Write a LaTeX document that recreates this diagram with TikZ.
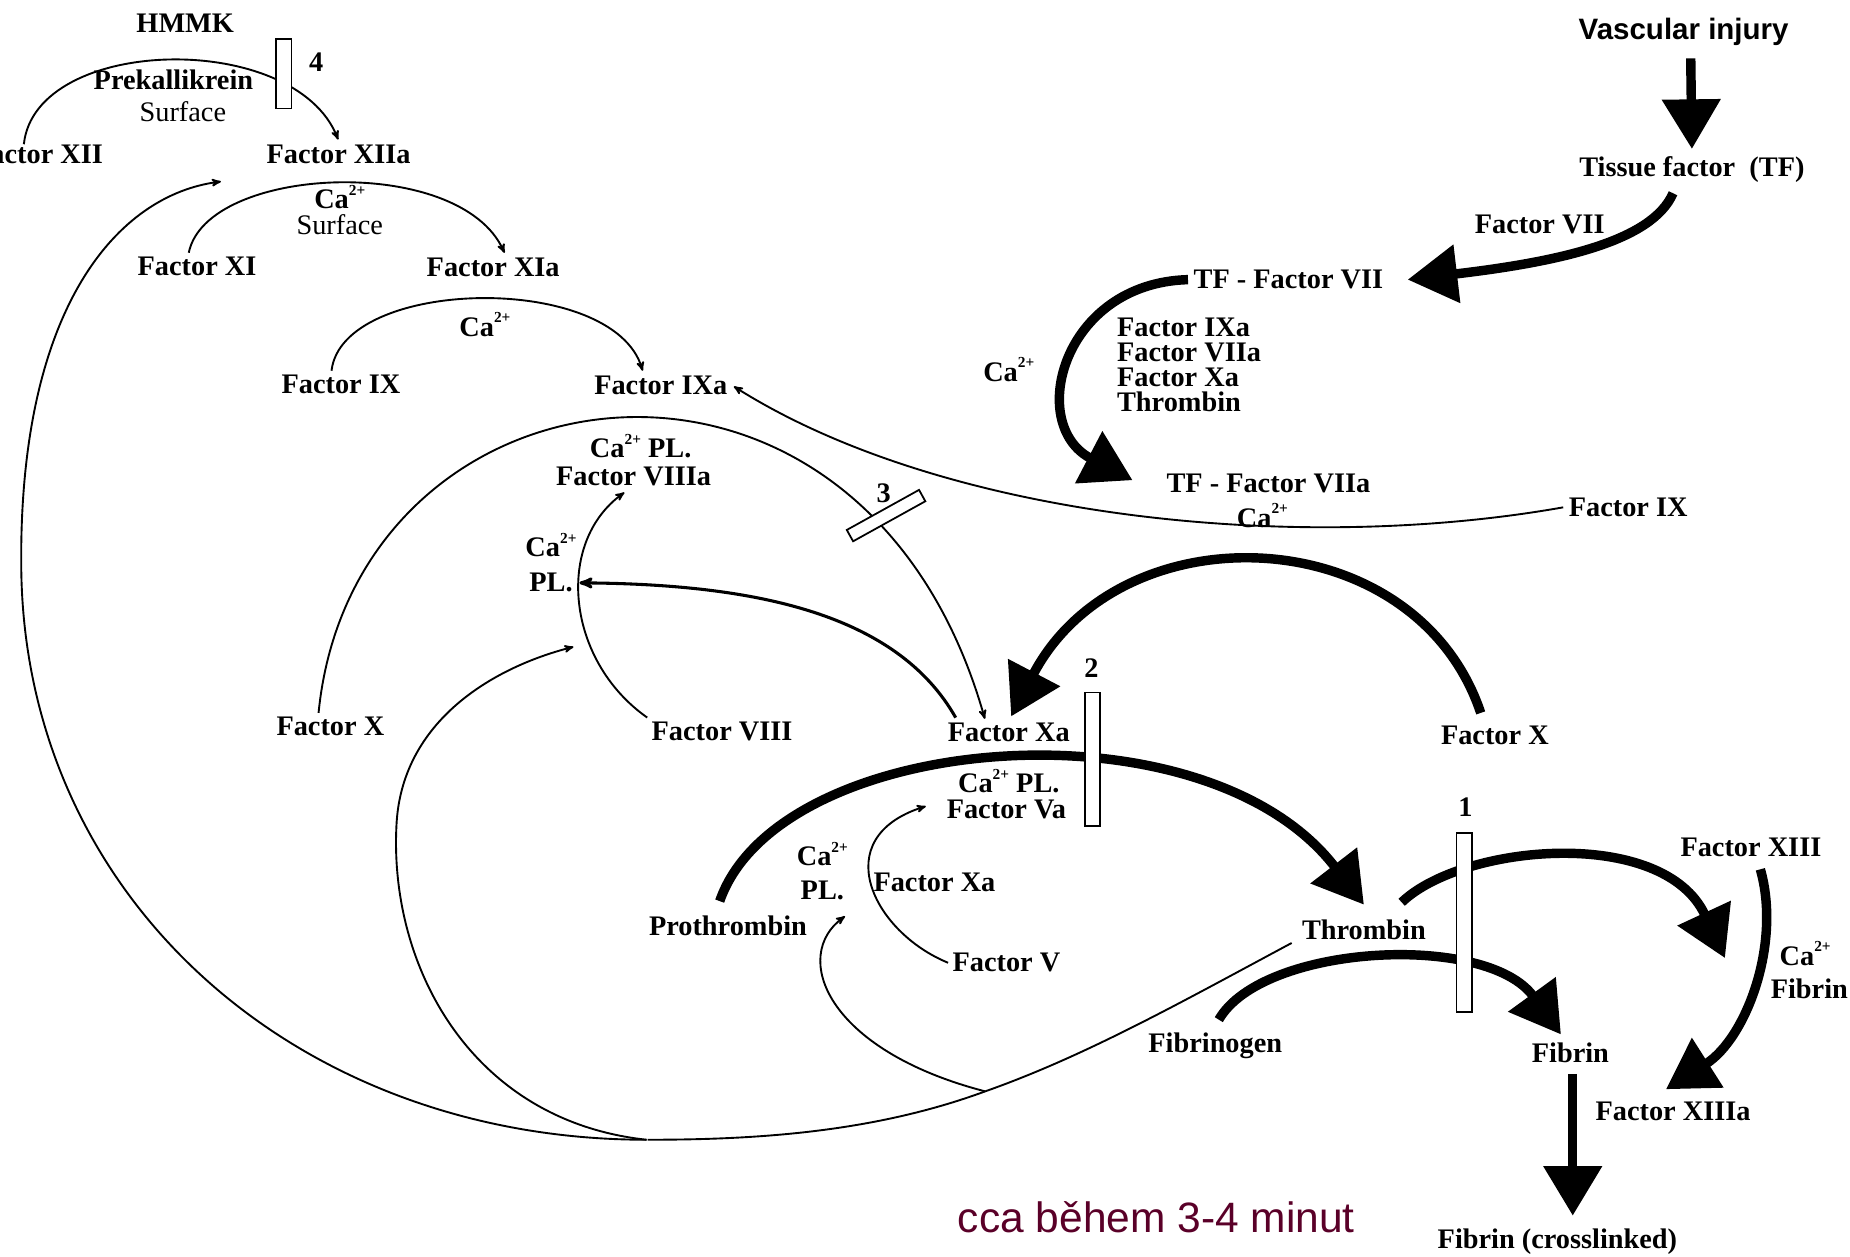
\documentclass[tikz,border=0pt]{standalone}
\usepackage{fontspec}
\setmainfont{Liberation Serif}
\newfontfamily\arialfont{Liberation Sans}
\usetikzlibrary{arrows,arrows.meta}
\definecolor{timecol}{RGB}{90,0,40}
\newcommand{\ca}{Ca\raisebox{1.05ex}{\fontsize{13}{13}\selectfont 2+}}

\begin{document}
\begin{tikzpicture}
[->,>=stealth',x=1pt,y=-1pt,line width=1.6pt,shorten >=1pt]
\tikzstyle{lbl}=[font=\bfseries\fontsize{24}{21}\selectfont,inner sep=0pt,align=center]
\tikzstyle{thin}=[font=\fontsize{24}{21}\selectfont,inner sep=0pt]
\tikzstyle{fat}=[line width=8pt,shorten >=0pt,-{Triangle[width=48pt,length=42pt]}]
\tikzstyle{bar}=[draw,fill=white,line width=1.5pt,inner sep=0pt,minimum width=13pt]
\useasboundingbox (0,0) rectangle (1568,1065);

% intrinsic pathway, top left
\node[lbl] (hmmk) at (157,20) {HMMK};
\node[lbl] (prekal) at (147,68) {Prekallikrein};
\node[thin] (surfA) at (155,95) {Surface};
\node[lbl] (num4) at (268,53) {4};
\node[lbl,anchor=east] (fXII) at (88,131) {Factor XII};
\node[lbl] (fXIIa) at (287,131) {Factor XIIa};
\node[lbl] (caA) at (288,167) {\ca};
\node[thin] (surfB) at (288,190) {Surface};
\node[lbl] (fXI) at (167,226) {Factor XI};
\node[lbl] (fXIa) at (418,227) {Factor XIa};
\node[lbl] (caB) at (411,275) {\ca};
\node[lbl] (fIX) at (289,326) {Factor IX};
\node[lbl] (fIXa) at (560,327) {Factor IXa};
\node[lbl] (caplA) at (543,378) {\ca{} PL.};
\node[lbl] (fVIIIa) at (537,404) {Factor VIIIa};
\node[lbl] (num3) at (749,418) {3};
\node[lbl] (caC) at (467,462) {\ca};
\node[lbl] (plA) at (467,494) {PL.};
\node[lbl] (fX) at (280,616) {Factor X};
\node[lbl] (fVIII) at (612,620) {Factor VIII};
\node[lbl] (fXa) at (855,621) {Factor Xa};
\node[lbl] (num2) at (925,566) {2};
\node[lbl] (caplB) at (855,662) {\ca{} PL.};
\node[lbl] (fVa) at (853,686) {Factor Va};
\node[lbl] (fX2) at (1267,623) {Factor X};
\node[lbl] (num1) at (1242,684) {1};
\node[lbl] (caD) at (697,724) {\ca};
\node[lbl] (plB) at (697,755) {PL.};
\node[lbl] (fXa2) at (792,748) {Factor Xa};
\node[lbl] (proth) at (617,785) {Prothrombin};
\node[lbl] (fV) at (853,816) {Factor V};
\node[lbl] (thr) at (1156,788) {Thrombin};
\node[lbl] (fbgen) at (1030,886) {Fibrinogen};
\node[lbl] (fibrin) at (1331,892) {Fibrin};
\node[lbl] (fXIII) at (1484,718) {Factor XIII};
\node[lbl] (caE) at (1530,808) {\ca};
\node[lbl,anchor=east] (fibB) at (1567,838) {Fibrin};
\node[lbl] (fXIIIa) at (1418,942) {Factor XIIIa};
\node[lbl] (fibX) at (1320,1052) {Fibrin (crosslinked)};
\node[font=\arialfont\fontsize{36}{36}\selectfont,text=timecol,inner sep=0pt] (time) at (980,1032) {cca během 3-4 minut};

% extrinsic pathway, top right
\node[font=\arialfont\bfseries\fontsize{25}{25}\selectfont,inner sep=0pt] (vasc) at (1427,27) {Vascular injury};
\node[lbl] (tf) at (1434,144) {Tissue factor~~(TF)};
\node[lbl] (fVII) at (1305,190) {Factor VII};
\node[lbl] (tfVII) at (1092,237) {TF - Factor VII};
\node[lbl,anchor=north west,align=left] (enz) at (946,269) {Factor IXa\\Factor VIIa\\Factor Xa\\Thrombin};
\node[lbl] (caF) at (855,313) {\ca};
\node[lbl] (tfVIIa) at (1075,410) {TF - Factor VIIa};
\node[lbl] (caG) at (1070,437) {\ca};
\node[lbl] (fIX2) at (1380,430) {Factor IX};

\coordinate (jV) at (835,925);
\coordinate (jB) at (548,966);
\coordinate (toPL) at (487,548);
\coordinate (toV) at (717,776);
\coordinate (toXIII) at (1462,812);

% thin arrows
\draw ([xshift=-12pt]fXII.north) .. controls (30,30) and (250,25) .. ([yshift=3pt]fXIIa.north);
\draw ([xshift=-7pt,yshift=3pt]fXI.north) .. controls (175,140) and (390,130) .. ([xshift=10pt,yshift=3pt]fXIa.north);
\draw ([xshift=-8pt,yshift=3pt]fIX.north) .. controls (290,235) and (520,230) .. ([xshift=-15pt,yshift=3pt]fIXa.north);
\draw ([xshift=-10pt,yshift=3pt]fX.north) .. controls (300,300) and (730,240) .. ([xshift=-20pt,yshift=2pt]fXa.north);
\draw ([xshift=-4pt]fIX2.west) .. controls (1100,470) and (800,440) .. ([xshift=4pt]fIXa.east);
\draw ([xshift=-3pt,yshift=3pt]fVIII.north west) .. controls (480,560) and (470,460) .. ([xshift=-7pt,yshift=-4pt]fVIIIa.south);
\draw[line width=2.6pt] ([xshift=-45pt,yshift=4pt]fXa.north) .. controls (760,520) and (640,495) .. ([xshift=4pt]plA.east);
\draw ([xshift=-3pt]fV.west) .. controls (740,790) and (700,710) .. ([xshift=-16pt,yshift=3pt]fVa.west);

% thrombin feedback
\draw[-] ([xshift=-8pt,yshift=-2pt]thr.south west) .. controls (1000,850) and (920,895) .. (jV) .. controls (740,960) and (640,966) .. (jB);
\draw (jB) .. controls (250,966) and (20,760) .. (18,480) .. controls (16,260) and (100,165) .. ([xshift=-37pt,yshift=-14pt]fXIIa.south west);
\draw (jB) .. controls (400,950) and (330,820) .. (336,700) .. controls (340,610) and (420,565) .. (toPL);
\draw (jV) .. controls (700,890) and (670,810) .. (toV);

% thick arrows
\draw[fat] ([xshift=6pt,yshift=-10pt]vasc.south) -- ([yshift=6pt]tf.north);
\draw[fat] ([xshift=-16pt,yshift=-8pt]tf.south) .. controls (1400,205) and (1320,222) .. ([xshift=20pt]tfVII.east);
\draw[fat] ([xshift=-4pt]tfVII.west) .. controls (900,240) and (870,360) .. ([xshift=-28pt,yshift=3pt]tfVIIa.west);
\draw[fat] ([xshift=-12pt,yshift=10pt]fX2.north) .. controls (1200,440) and (950,430) .. ([xshift=2pt,yshift=5pt]fXa.north);
\draw[fat] ([xshift=-7pt,yshift=12pt]proth.north) .. controls (660,620) and (1020,590) .. ([yshift=12pt]thr.north);
\draw[fat] ([xshift=32pt,yshift=14pt]thr.north) .. controls (1240,715) and (1410,700) .. (toXIII);
\draw[fat] ([xshift=3pt,yshift=10pt]fbgen.north) .. controls (1070,800) and (1260,790) .. ([xshift=-8pt,yshift=6pt]fibrin.north);
\draw[fat] ([xshift=8pt,yshift=-10pt]fXIII.south) .. controls (1510,800) and (1480,880) .. ([xshift=-6pt,yshift=10pt]fXIIIa.north);
\draw[fat] ([xshift=2pt,yshift=-9pt]fibrin.south) -- ([xshift=13pt,yshift=10pt]fibX.north);

% inhibition bars
\node[bar,minimum height=59pt] (barA) at (240.5,62.5) {};
\node[bar,minimum height=113pt] (barB) at (926,643.5) {};
\node[bar,minimum height=152pt] (barD) at (1241,782) {};
\node[bar,minimum width=70pt,minimum height=11pt,rotate=29] (barC) at (751,437) {};
\end{tikzpicture}
\end{document}
